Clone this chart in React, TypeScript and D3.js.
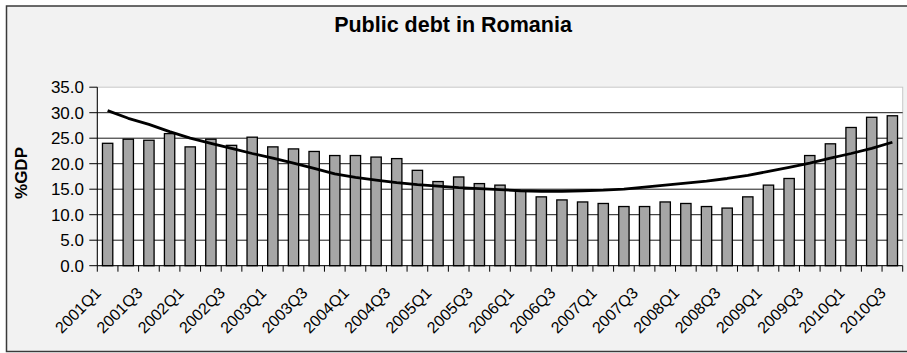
import React from "react";
import * as d3 from "d3";

const categories = [
  "2001Q1","2001Q2","2001Q3","2001Q4",
  "2002Q1","2002Q2","2002Q3","2002Q4",
  "2003Q1","2003Q2","2003Q3","2003Q4",
  "2004Q1","2004Q2","2004Q3","2004Q4",
  "2005Q1","2005Q2","2005Q3","2005Q4",
  "2006Q1","2006Q2","2006Q3","2006Q4",
  "2007Q1","2007Q2","2007Q3","2007Q4",
  "2008Q1","2008Q2","2008Q3","2008Q4",
  "2009Q1","2009Q2","2009Q3","2009Q4",
  "2010Q1","2010Q2","2010Q3",
];

const debt = [
  24.0, 24.8, 24.6, 25.9, 23.3, 24.8, 23.6, 25.2, 23.3, 22.9,
  22.4, 21.6, 21.6, 21.3, 21.0, 18.7, 16.5, 17.4, 16.1, 15.8,
  14.6, 13.5, 12.9, 12.5, 12.2, 11.6, 11.6, 12.5, 12.2, 11.6,
  11.3, 13.5, 15.8, 17.1, 21.6, 23.9, 27.1, 29.1, 29.4,
];

const trend = [
  30.4, 28.9, 27.7, 26.3, 25.0, 24.0, 23.0, 22.0, 21.1, 20.1,
  19.1, 18.0, 17.3, 16.8, 16.3, 15.9, 15.6, 15.3, 15.1, 14.9,
  14.7, 14.6, 14.6, 14.7, 14.8, 15.0, 15.4, 15.8, 16.2, 16.6,
  17.1, 17.7, 18.5, 19.3, 20.1, 21.1, 22.0, 23.0, 24.2,
];

const yTicks = [0, 5, 10, 15, 20, 25, 30, 35];
const gridValues = [5, 10, 15, 20, 25, 30];

const W = 907;
const H = 353;
const plotLeft = 97.3;
const plotRight = 902.7;
const plotTop = 87.2;
const plotBottom = 265.7;

export default function App() {
  const x = d3
    .scaleBand<string>()
    .domain(categories)
    .range([plotLeft, plotRight])
    .paddingInner(0.5)
    .paddingOuter(0.25);
  const step = x.step();
  const y = d3.scaleLinear().domain([0, 35]).range([plotBottom, plotTop]);
  const center = (c: string) => (x(c) as number) + x.bandwidth() / 2;

  const line = d3
    .line<number>()
    .x((_, i) => center(categories[i]))
    .y((d) => y(d));

  const font = "Arial, 'Liberation Sans', sans-serif";

  return (
    <svg
      width={W}
      height={H}
      style={{ position: "absolute", left: 0, top: 0, display: "block" }}
      fontFamily={font}
    >
      <rect x={0} y={0} width={W} height={H} fill="#ffffff" />
      <rect x={6.5} y={6} width={W + 10} height={345.5} fill="#f2f2f2" stroke="#3a3a3a" strokeWidth={1.5} />
      <text x={453} y={32} textAnchor="middle" fontSize={21.5} fontWeight="bold" fill="#000">
        Public debt in Romania
      </text>

      {/* plot area */}
      <rect x={plotLeft} y={plotTop} width={plotRight - plotLeft} height={plotBottom - plotTop} fill="#ffffff" stroke="#c8c8c8" strokeWidth={1} />

      {gridValues.map((v) => (
        <line key={v} x1={plotLeft} x2={plotRight} y1={y(v)} y2={y(v)} stroke="#1a1a1a" strokeWidth={1} />
      ))}

      {categories.map((c, i) => (
        <rect
          key={c}
          x={x(c) as number}
          y={y(debt[i])}
          width={x.bandwidth()}
          height={y(0) - y(debt[i])}
          fill="#a6a6a6"
          stroke="#000"
          strokeWidth={1.3}
        />
      ))}

      <path d={line(trend) || ""} fill="none" stroke="#000" strokeWidth={2.8} strokeLinejoin="round" />

      {/* y axis */}
      <line x1={plotLeft} x2={plotLeft} y1={plotTop} y2={plotBottom} stroke="#000" strokeWidth={1} />
      {yTicks.map((t) => (
        <g key={t}>
          <line x1={plotLeft - 8} x2={plotLeft} y1={y(t)} y2={y(t)} stroke="#000" strokeWidth={1} />
          <text x={84} y={y(t) + 6} textAnchor="end" fontSize={17} fill="#000">
            {t.toFixed(1)}
          </text>
        </g>
      ))}
      <text
        transform={`translate(26.5, 173) rotate(-90)`}
        textAnchor="middle"
        fontSize={17}
        fontWeight="bold"
        fill="#000"
      >
        %GDP
      </text>

      {/* x axis */}
      <line x1={plotLeft} x2={plotRight} y1={plotBottom} y2={plotBottom} stroke="#000" strokeWidth={1} />
      {categories.map((c, i) => (
        <line
          key={"t" + c}
          x1={plotLeft + i * step}
          x2={plotLeft + i * step}
          y1={plotBottom}
          y2={plotBottom + 6}
          stroke="#000"
          strokeWidth={1}
        />
      ))}
      <line x1={plotRight} x2={plotRight} y1={plotBottom} y2={plotBottom + 6} stroke="#000" strokeWidth={1} />
      {categories.map((c, i) =>
        i % 2 === 0 ? (
          <text
            key={"l" + c}
            transform={`translate(${center(c) - 5.5}, 294) rotate(-45)`}
            textAnchor="end"
            fontSize={16}
            fill="#000"
          >
            {c}
          </text>
        ) : null
      )}
    </svg>
  );
}
